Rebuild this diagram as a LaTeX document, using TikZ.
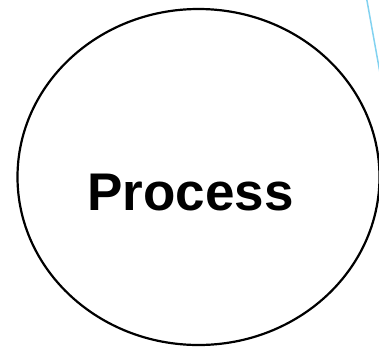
\documentclass[tikz,border=0pt]{standalone}
\usepackage{fontspec}
\setmainfont{Liberation Sans}
\usetikzlibrary{shapes.geometric,positioning}
\definecolor{linkblue}{RGB}{130,210,240}

\begin{document}
\begin{tikzpicture}[
  x=1pt, y=-1pt,
  proc/.style={draw, ellipse, line width=2.2pt, minimum width=362pt, minimum height=336pt, inner sep=0pt},
  txt/.style={font=\fontsize{53}{58}\selectfont\bfseries, inner sep=0pt},
  link/.style={draw=linkblue, line width=1.5pt},
]
\useasboundingbox (0,0) rectangle (379,346);
\clip (0,0) rectangle (379,346);
% ---------- process bubble ----------
\node[proc] (proc) at (198.5,177) {};
\node[txt] (proctext) at (190.5,193) {Process};
% ---------- outgoing flow, leaves the frame ----------
\coordinate (linkin)  at (366.5,-2);
\coordinate (linkout) at (382,84);
\draw[link] (linkin) -- (linkout);
\end{tikzpicture}
\end{document}
